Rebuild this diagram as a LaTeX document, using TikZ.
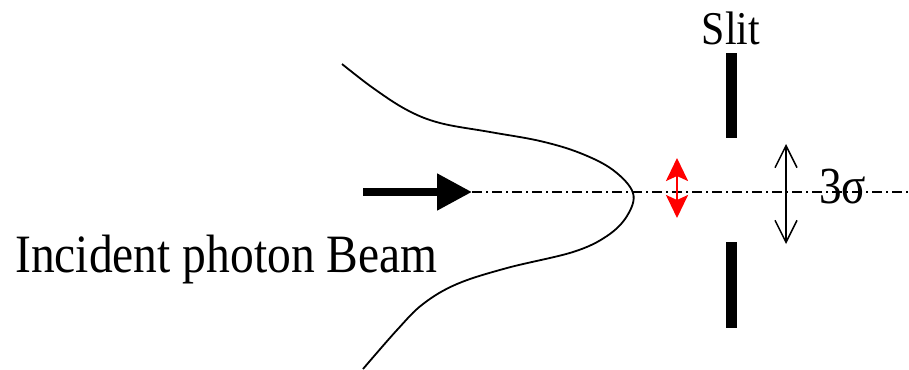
\documentclass[tikz,border=0pt]{standalone}
\usepackage{fontspec}
\setmainfont{Liberation Serif}
\usetikzlibrary{arrows.meta}
\tikzset{
  axisline/.style={line width=1.8pt, dash pattern=on 10pt off 4pt on 2pt off 4pt},
  slitbar/.style={fill=black, draw=none},
  profile/.style={line width=1.8pt},
  bigtext/.style={inner sep=0pt, font=\fontsize{54}{60}\selectfont},
}
\begin{document}
\begin{tikzpicture}[x=1pt,y=-1pt]
\useasboundingbox (0,0) rectangle (909,369);
% beam arrow
\coordinate (bstart) at (363,192);
\coordinate (btip) at (472,192);
\coordinate (aend) at (909,192);
\draw[line width=8pt, -{Triangle[length=35pt,width=35pt]}] (bstart) -- (btip);
\draw[axisline] (btip) -- (aend);
% profile curve
\draw[profile] plot[smooth, tension=0.6] coordinates {
 (342,64) (373,88) (407,110) (440,123) (490,132) (540,141) (580,153) (613,170) (633,193)
 (627,216) (607,236) (573,252) (507,268) (457,284) (423,304) (397,330) (363,369)};
% slit bars
\fill[slitbar] (726,53) rectangle (737,138);
\fill[slitbar] (726,242) rectangle (737,328);
% red arrow
\coordinate (rtop) at (677,158);
\coordinate (rbot) at (677,218);
\draw[red, line width=2.5pt, {Stealth[length=23pt,width=22pt,inset=5pt]}-{Stealth[length=23pt,width=22pt,inset=5pt]}] (rtop) -- (rbot);
% black double arrow
\coordinate (ktop) at (786,144);
\coordinate (kbot) at (786,244);
\draw[line width=1.5pt, {Straight Barb[length=22pt,width=22pt]}-{Straight Barb[length=22pt,width=22pt]}] (ktop) -- (kbot);
% texts
\node[bigtext, anchor=base west] (inc) at (15,272) {\scalebox{0.88}[1]{Incident photon Beam}};
\node[bigtext, anchor=base, font=\fontsize{47}{52}\selectfont] (slit) at (731,45) {\scalebox{0.89}[1]{Slit}};
\node[bigtext, anchor=base west, font=\fontsize{52}{58}\selectfont] (sig) at (819,203) {\scalebox{0.87}[1]{3σ}};
\end{tikzpicture}
\end{document}
